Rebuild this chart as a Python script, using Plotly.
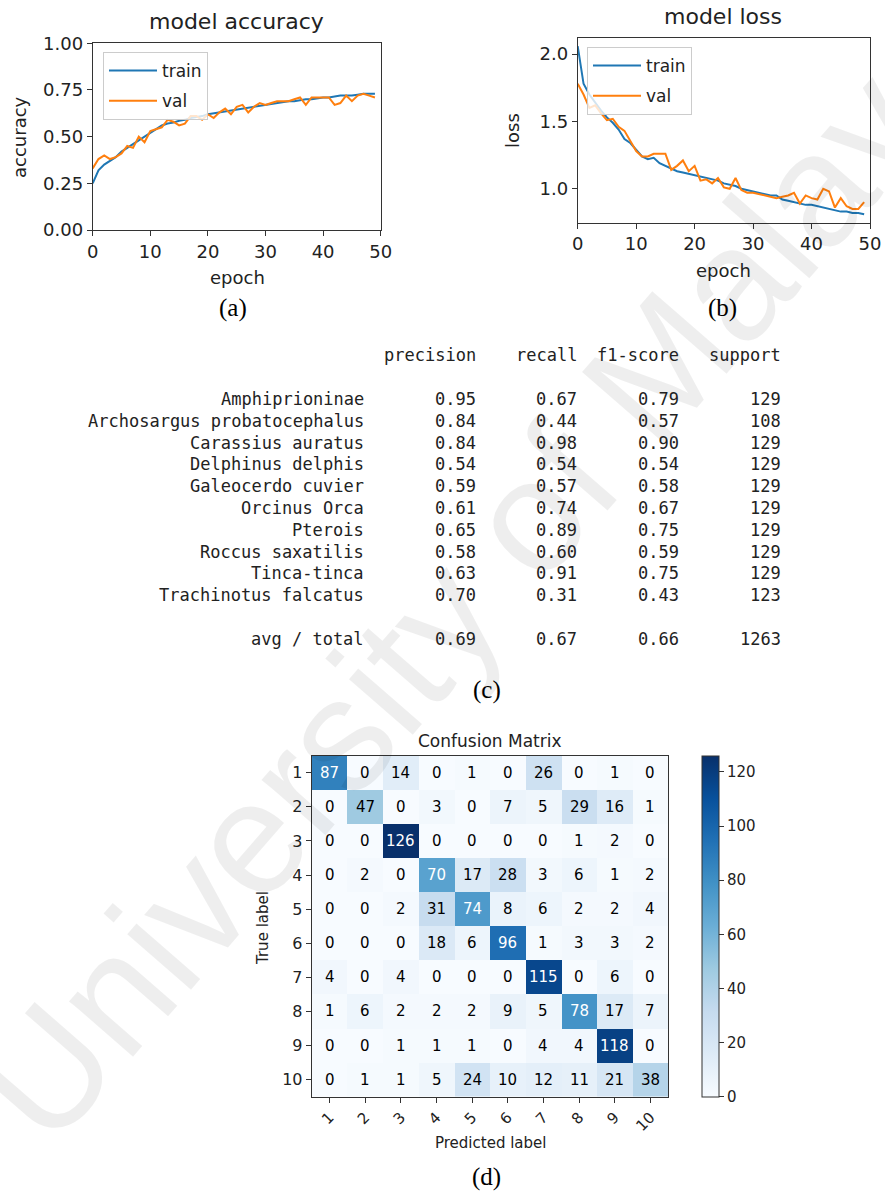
import plotly.graph_objects as go

# ---------------- data ----------------
epochs = list(range(50))
acc_train = [0.25, 0.32, 0.35, 0.37, 0.39, 0.42, 0.44, 0.46, 0.48, 0.50,
             0.52, 0.54, 0.56, 0.57, 0.575, 0.585, 0.59, 0.60, 0.605, 0.61,
             0.62, 0.625, 0.63, 0.635, 0.64, 0.645, 0.65, 0.655, 0.66, 0.665,
             0.67, 0.675, 0.68, 0.685, 0.69, 0.69, 0.695, 0.70, 0.70, 0.705,
             0.71, 0.71, 0.715, 0.72, 0.72, 0.72, 0.725, 0.73, 0.73, 0.73]
acc_val = [0.33, 0.38, 0.40, 0.38, 0.39, 0.41, 0.45, 0.44, 0.50, 0.47,
           0.53, 0.54, 0.55, 0.59, 0.58, 0.56, 0.57, 0.61, 0.61, 0.59,
           0.62, 0.60, 0.63, 0.65, 0.62, 0.66, 0.67, 0.63, 0.66, 0.68,
           0.67, 0.68, 0.69, 0.69, 0.69, 0.70, 0.71, 0.67, 0.71, 0.71,
           0.71, 0.71, 0.67, 0.68, 0.72, 0.69, 0.72, 0.73, 0.72, 0.71]
loss_train = [2.06, 1.78, 1.70, 1.64, 1.58, 1.53, 1.49, 1.44, 1.37, 1.34,
              1.29, 1.24, 1.22, 1.23, 1.19, 1.17, 1.15, 1.13, 1.12, 1.11,
              1.10, 1.09, 1.08, 1.07, 1.06, 1.04, 1.03, 1.02, 1.00, 0.99,
              0.98, 0.97, 0.96, 0.95, 0.95, 0.92, 0.91, 0.90, 0.89, 0.88,
              0.88, 0.87, 0.86, 0.85, 0.84, 0.83, 0.83, 0.82, 0.82, 0.81]
loss_val = [1.78, 1.70, 1.60, 1.62, 1.56, 1.51, 1.52, 1.46, 1.43, 1.36,
            1.28, 1.24, 1.24, 1.26, 1.26, 1.26, 1.14, 1.17, 1.21, 1.13,
            1.17, 1.06, 1.07, 1.04, 1.08, 1.01, 1.00, 1.08, 0.99, 0.97,
            0.97, 0.96, 0.95, 0.94, 0.93, 0.94, 0.95, 0.97, 0.89, 0.95,
            0.93, 0.92, 1.00, 0.98, 0.86, 0.93, 0.87, 0.85, 0.85, 0.90]

class_names = ["Amphiprioninae", "Archosargus probatocephalus", "Carassius auratus",
               "Delphinus delphis", "Galeocerdo cuvier", "Orcinus Orca", "Pterois",
               "Roccus saxatilis", "Tinca-tinca", "Trachinotus falcatus"]
precision = [0.95, 0.84, 0.84, 0.54, 0.59, 0.61, 0.65, 0.58, 0.63, 0.70]
recall = [0.67, 0.44, 0.98, 0.54, 0.57, 0.74, 0.89, 0.60, 0.91, 0.31]
f1_score = [0.79, 0.57, 0.90, 0.54, 0.58, 0.67, 0.75, 0.59, 0.75, 0.43]
support = [129, 108, 129, 129, 129, 129, 129, 129, 129, 123]
avg_label = "avg / total"
avg_values = [0.69, 0.67, 0.66, 1263]
report_headers = ["precision", "recall", "f1-score", "support"]

cm_labels = [str(i) for i in range(1, 11)]
cm = [
    [87, 0, 14, 0, 1, 0, 26, 0, 1, 0],
    [0, 47, 0, 3, 0, 7, 5, 29, 16, 1],
    [0, 0, 126, 0, 0, 0, 0, 1, 2, 0],
    [0, 2, 0, 70, 17, 28, 3, 6, 1, 2],
    [0, 0, 2, 31, 74, 8, 6, 2, 2, 4],
    [0, 0, 0, 18, 6, 96, 1, 3, 3, 2],
    [4, 0, 4, 0, 0, 0, 115, 0, 6, 0],
    [1, 6, 2, 2, 2, 9, 5, 78, 17, 7],
    [0, 0, 1, 1, 1, 0, 4, 4, 118, 0],
    [0, 1, 1, 5, 24, 10, 12, 11, 21, 38],
]

# ---------------- helpers ----------------
W, H = 885, 1200
def px(x):
    return x / W
def py(y):
    return 1 - y / H

SANS = "DejaVu Sans"
MONO = "DejaVu Sans Mono"
SERIF = "Liberation Serif"
TXT = "#222222"
BLUE = "#1f77b4"
ORANGE = "#ff7f0e"

blues = [[0.0, "#f7fbff"], [0.125, "#deebf7"], [0.25, "#c6dbef"], [0.375, "#9ecae1"],
         [0.5, "#6baed6"], [0.625, "#4292c6"], [0.75, "#2171b5"], [0.875, "#08519c"],
         [1.0, "#08306b"]]

fig = go.Figure()

# accuracy
fig.add_trace(go.Scatter(x=epochs, y=acc_train, mode="lines", name="train",
                         line=dict(color=BLUE, width=2), xaxis="x", yaxis="y",
                         legend="legend", legendgroup="a_train"))
fig.add_trace(go.Scatter(x=epochs, y=acc_val, mode="lines", name="val",
                         line=dict(color=ORANGE, width=2), xaxis="x", yaxis="y",
                         legend="legend", legendgroup="a_val"))
# loss
fig.add_trace(go.Scatter(x=epochs, y=loss_train, mode="lines", name="train",
                         line=dict(color=BLUE, width=2), xaxis="x2", yaxis="y2",
                         legend="legend2", legendgroup="l_train"))
fig.add_trace(go.Scatter(x=epochs, y=loss_val, mode="lines", name="val",
                         line=dict(color=ORANGE, width=2), xaxis="x2", yaxis="y2",
                         legend="legend2", legendgroup="l_val"))

# confusion matrix (numeric positions 1..10, labelled with cm_labels)
pos = list(range(1, len(cm_labels) + 1))
zmin = min(min(r) for r in cm)
zmax = max(max(r) for r in cm)
fig.add_trace(go.Heatmap(
    z=cm, x=pos, y=pos, xaxis="x3", yaxis="y3",
    colorscale=blues, zmin=zmin, zmax=zmax, showlegend=False, hoverinfo="skip",
    colorbar=dict(x=px(701.7), xanchor="left", xpad=0, ypad=0,
                  y=py(926.2), yanchor="middle", len=341 / H, lenmode="fraction",
                  thickness=17, outlinecolor="#333", outlinewidth=1,
                  tickvals=[0, 20, 40, 60, 80, 100, 120], ticks="outside",
                  ticklen=5, tickcolor="#333",
                  tickfont=dict(family=SANS, size=15, color=TXT)),
))

loss_all = loss_train + loss_val
lo, hi = min(loss_all), max(loss_all)
pad = 0.05 * (hi - lo)

axis_common = dict(showline=True, mirror=True, linecolor="#333", linewidth=1,
                   ticks="outside", ticklen=5, tickcolor="#333", showgrid=False,
                   zeroline=False, tickfont=dict(family=SANS, size=18, color=TXT))

annotations = []
def note(text, x, y, size=16, family=SANS, color=TXT, angle=0, xanchor="center", **kw):
    annotations.append(dict(text=text, x=px(x), y=py(y), xref="paper", yref="paper",
                            showarrow=False, textangle=angle, xanchor=xanchor,
                            yanchor="middle",
                            font=dict(family=family, size=size, color=color), **kw))

# watermark (drawn first so it sits beneath the other annotations)
annotations.append(dict(text="University of Malaya", x=px(480), y=py(572),
                        xref="paper", yref="paper", showarrow=False, textangle=-49,
                        font=dict(family="Liberation Sans", size=160,
                                  color="rgba(0,0,0,0.065)")))

# titles / axis labels
note("model accuracy", 236, 22, size=22)
note("accuracy", 20, 137, size=18, angle=-90)
note("epoch", 237, 277, size=18)
note("model loss", 723, 17, size=22)
note("loss", 513, 131, size=18, angle=-90)
note("epoch", 723, 270, size=18)
note("Confusion Matrix", 490, 741, size=17)
note("True label", 263, 928, size=15, angle=-90)
note("Predicted label", 490, 1143, size=15)

# captions
note("(a)", 233, 308, size=25, family=SERIF, color="black")
note("(b)", 722, 308, size=25, family=SERIF, color="black")
note("(c)", 487, 690, size=25, family=SERIF, color="black")
note("(d)", 487, 1177, size=25, family=SERIF, color="black")

# classification report table
col_right = [478, 579, 681, 783]
label_right = 366
header_y = 355
row_y0 = 399
row_dy = 21.8
for h, xr in zip(report_headers, col_right):
    note(h, xr, header_y, size=17, family=MONO, xanchor="right")
for i, name in enumerate(class_names):
    yy = row_y0 + i * row_dy
    note(name, label_right, yy, size=17, family=MONO, xanchor="right")
    vals = [f"{precision[i]:.2f}", f"{recall[i]:.2f}", f"{f1_score[i]:.2f}", str(support[i])]
    for v, xr in zip(vals, col_right):
        note(v, xr, yy, size=17, family=MONO, xanchor="right")
avg_y = 639
note(avg_label, label_right, avg_y, size=17, family=MONO, xanchor="right")
avg_txt = [f"{avg_values[0]:.2f}", f"{avg_values[1]:.2f}", f"{avg_values[2]:.2f}", str(avg_values[3])]
for v, xr in zip(avg_txt, col_right):
    note(v, xr, avg_y, size=17, family=MONO, xanchor="right")

# confusion matrix cell texts
thresh = zmax / 2.0
for i, row in enumerate(cm):
    for j, v in enumerate(row):
        annotations.append(dict(text=str(v), x=pos[j], y=pos[i],
                                xref="x3", yref="y3", showarrow=False,
                                font=dict(family=SANS, size=15,
                                          color="white" if v > thresh else "black")))

legend_style = dict(xanchor="left", yanchor="top", bgcolor="rgba(255,255,255,0.8)",
                    bordercolor="#cccccc", borderwidth=1,
                    font=dict(family=SANS, size=17, color=TXT),
                    tracegroupgap=5, itemwidth=48)

n = len(cm_labels)
fig.update_layout(
    width=W, height=H, margin=dict(l=0, r=0, t=0, b=0, pad=0, autoexpand=False),
    paper_bgcolor="white", plot_bgcolor="white", showlegend=True,
    xaxis=dict(domain=[px(92.7), px(380.7)], range=[0, 50],
               tickvals=[0, 10, 20, 30, 40, 50], anchor="y", **axis_common),
    yaxis=dict(domain=[py(230), py(43.3)], range=[0, 1],
               tickvals=[0, 0.25, 0.5, 0.75, 1.0], tickformat=".2f", anchor="x",
               **axis_common),
    xaxis2=dict(domain=[px(577.7), px(870)], range=[0, 50],
                tickvals=[0, 10, 20, 30, 40, 50], anchor="y2", **axis_common),
    yaxis2=dict(domain=[py(222.7), py(37.7)], range=[lo - pad, hi + pad],
                tickvals=[1.0, 1.5, 2.0], tickformat=".1f", anchor="x2",
                **axis_common),
    xaxis3=dict(domain=[px(311.7), px(668.3)], range=[0.5, n + 0.5],
                tickvals=pos, ticktext=cm_labels, tickangle=-45,
                anchor="y3", showline=True, mirror=True, linecolor="#333",
                linewidth=1, ticks="outside", ticklen=5, tickcolor="#333",
                showgrid=False, zeroline=False,
                tickfont=dict(family=SANS, size=15, color=TXT)),
    yaxis3=dict(domain=[py(1096.7), py(755.7)], range=[n + 0.5, 0.5],
                tickvals=pos, ticktext=cm_labels, anchor="x3", showline=True,
                mirror=True, linecolor="#333", linewidth=1, ticks="outside",
                ticklen=5, tickcolor="#333", showgrid=False, zeroline=False,
                tickfont=dict(family=SANS, size=16, color=TXT)),
    legend=dict(x=px(103), y=py(52), **legend_style),
    legend2=dict(x=px(587), y=py(47), **legend_style),
    annotations=annotations,
)

fig.write_html("out.html", config={"displayModeBar": False},
               post_script="document.body.style.margin='0';document.body.style.overflow='hidden';")
